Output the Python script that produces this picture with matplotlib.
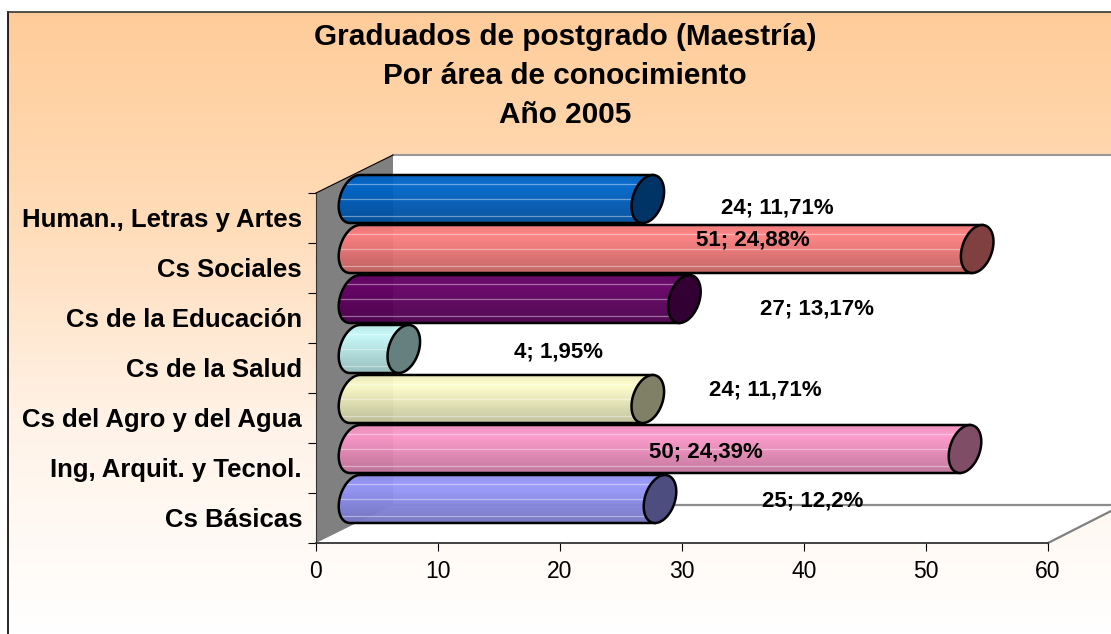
import numpy as np
import matplotlib
matplotlib.use("Agg")
import matplotlib.pyplot as plt
from matplotlib.patches import Polygon
from matplotlib.transforms import Affine2D
from matplotlib.colors import LinearSegmentedColormap, to_rgb

plt.rcParams['font.family'] = ['Liberation Sans', 'DejaVu Sans']

# ---------- data ----------
categories = ["Cs Básicas", "Ing, Arquit. y Tecnol.", "Cs del Agro y del Agua",
              "Cs de la Salud", "Cs de la Educación", "Cs Sociales",
              "Human., Letras y Artes"]
values = [25, 50, 24, 4, 27, 51, 24]
labels = ["25; 12,2%", "50; 24,39%", "24; 11,71%", "4; 1,95%",
          "27; 13,17%", "51; 24,88%", "24; 11,71%"]
xticks = [0, 10, 20, 30, 40, 50, 60]
title_lines = ["Graduados de postgrado (Maestría)", "Por área de conocimiento", "Año 2005"]

# ---------- style ----------
top_colors = ["#9999ff", "#ff99cc", "#ffffcc", "#ccffff", "#660066", "#ff8080", "#0066cc"]
cap_colors = ["#4d4d80", "#804d66", "#808066", "#668080", "#330033", "#804040", "#003366"]
label_px = [(813, 501), (706, 452), (765, 390), (558, 352), (817, 309), (753, 240), (777, 208)]
W, H = 1111, 634
X0, X1, Y0, Y1 = 316, 1048, 543, 193   # front plane, in pixels
DX, DY = 77, 38                        # depth of the 3D box
BX, BY = 39, 19                        # depth offset of the cylinders
RX, RY, SH = 15.5, 24, 5               # cap radii and shear

fig = plt.figure(figsize=(W / 100, H / 100), dpi=100)

# background layer in pixel coordinates
bg = fig.add_axes([0, 0, 1, 1], zorder=0)
grad = np.linspace(0, 1, 256)[:, None]
cm = LinearSegmentedColormap.from_list('b', ['#ffcc99', '#ffdcb8', '#fff3e8', '#ffffff'])
bg.imshow(grad, extent=(8, W, H, 12), cmap=cm, aspect='auto', zorder=0)
bg.plot([8, 8], [H, 12], color='black', lw=1.2, zorder=1)
bg.plot([8, W], [12, 12], color='#333333', lw=1.2, zorder=1)
bg.add_patch(Polygon([(X0 + DX, Y1 - DY), (W, Y1 - DY), (W, Y0 - DY), (X0 + DX, Y0 - DY)],
                     fc='white', ec='none', zorder=2))
bg.add_patch(Polygon([(X0, Y0), (X0 + DX, Y0 - DY), (W, Y0 - DY), (W, 511), (X1, Y0)],
                     fc='white', ec='none', zorder=2))
bg.add_patch(Polygon([(X0, Y1), (X0 + DX, Y1 - DY), (X0 + DX, Y0 - DY), (X0, Y0)],
                     fc='#808080', ec='none', zorder=3))
bg.plot([X0 + DX, W], [Y1 - DY, Y1 - DY], color='#999999', lw=1.5, zorder=4)
bg.plot([X0 + DX, W], [Y0 - DY, Y0 - DY], color='#8c8c8c', lw=1.6, zorder=4)
bg.plot([X1, W], [Y0, 511], color='#808080', lw=1.6, zorder=4)
bg.plot([X0, X0 + DX], [Y1, Y1 - DY], color='black', lw=0.8, zorder=4)
bg.set_xlim(0, W)
bg.set_ylim(H, 0)
bg.axis('off')

# data axes on the front plane of the box
ax = fig.add_axes([X0 / W, 1 - Y0 / H, (X1 - X0) / W, (Y0 - Y1) / H], zorder=1)
ax.patch.set_alpha(0)
for s in ['top', 'right']:
    ax.spines[s].set_visible(False)
ax.spines['left'].set_color('#333333')
ax.spines['bottom'].set_color('#333333')
ax.spines['bottom'].set_linewidth(1.3)
tr = ax.transData + Affine2D().translate(BX, BY)
ppu_x = (X1 - X0) / 60
ppu_y = (Y0 - Y1) / 7
t = np.linspace(0, 2 * np.pi, 73)


def shade(c, f):
    return tuple(np.array(to_rgb(c)) * f)


for i, (v, c, cc) in enumerate(zip(values, top_colors, cap_colors)):
    rx, ry, sh = RX / ppu_x, RY / ppu_y, SH / ppu_x
    th = np.linspace(np.pi / 2, 3 * np.pi / 2, 37)
    body = np.column_stack([np.r_[rx * np.cos(th) + sh * np.sin(th), v - sh, v + sh],
                            np.r_[i + ry * np.sin(th), i - ry, i + ry]])
    patch = Polygon(body, closed=True, transform=tr, fc='none', ec='black', lw=1.8,
                    zorder=5, clip_on=False)
    cmap = LinearSegmentedColormap.from_list(
        'c', [(0, shade(c, 0.93)), (0.2, c), (1, shade(c, 0.76))])
    im = ax.imshow(np.linspace(0, 1, 32)[:, None], extent=(-3, v + 3, i - ry, i + ry),
                   transform=tr, cmap=cmap, aspect='auto', alpha=0.96, zorder=4)
    ax.add_patch(patch)
    im.set_clip_box(fig.bbox)
    im.set_clip_path(patch)
    for fr in (0.62, 0.0, -0.7):
        ln, = ax.plot([-2, v], [i + fr * ry] * 2, transform=tr, color='white',
                      alpha=0.4, lw=0.9, zorder=4.5)
        ln.set_clip_box(fig.bbox)
        ln.set_clip_path(patch)
    ax.add_patch(Polygon(np.column_stack([v + rx * np.cos(t) + sh * np.sin(t), i + ry * np.sin(t)]),
                         transform=tr, fc=cc, ec='black', lw=1.8, zorder=6, clip_on=False))

ax.set_xlim(0, 60)
ax.set_ylim(-0.5, 6.5)
ax.set_xticks(xticks)
ax.set_yticks(np.arange(8) - 0.5)
ax.set_yticklabels([])
ax.set_yticks(range(7), minor=True)
ax.set_yticklabels(categories, minor=True, fontsize=18.5, fontweight='bold', va='center')
ax.tick_params(axis='y', which='minor', length=0, pad=10)
ax.tick_params(axis='y', which='major', length=6, width=0.8)
ax.tick_params(axis='x', length=6, width=0.8, labelsize=16.5, pad=6)
for lab in ax.get_yticklabels(minor=True):
    lab.set_transform(lab.get_transform() + Affine2D().translate(0, -2))

# text layer above the bars, in pixel coordinates
top = fig.add_axes([0, 0, 1, 1], zorder=2)
top.set_xlim(0, W)
top.set_ylim(H, 0)
top.axis('off')
for lab, (px, py) in zip(labels, label_px):
    top.text(px, py, lab, fontsize=16, fontweight='bold', ha='center', va='center')
for s, y in zip(title_lines, (37, 76, 115)):
    top.text(565, y, s, fontsize=21.4, fontweight='bold', ha='center', va='center')

fig.savefig('out.png', dpi=100)
